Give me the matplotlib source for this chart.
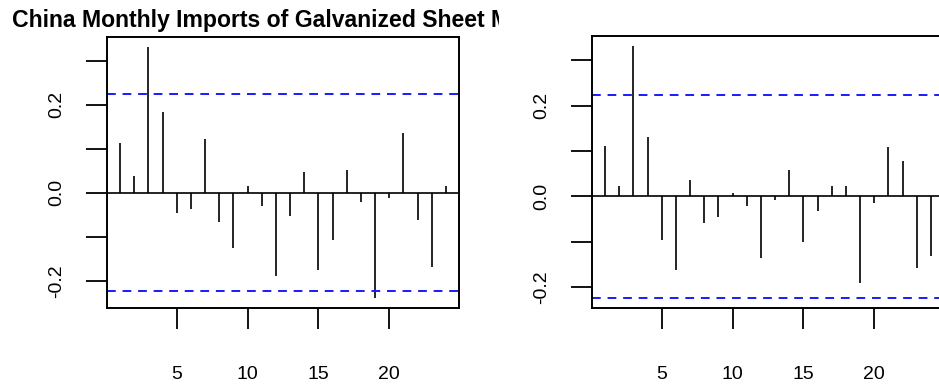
import numpy as np
import matplotlib.pyplot as plt
from matplotlib.transforms import Bbox

plt.rcParams['font.family'] = ['Liberation Sans', 'DejaVu Sans']

lags = np.arange(1, 25)

acf_vals = [0.112, 0.039, 0.331, 0.184, -0.047, -0.038, 0.122, -0.066,
            -0.126, 0.016, -0.030, -0.189, -0.053, 0.048, -0.175, -0.108,
            0.052, -0.021, -0.239, -0.011, 0.135, -0.063, -0.168, 0.016]

pacf_vals = [0.110, 0.024, 0.331, 0.131, -0.095, -0.162, 0.037, -0.059,
             -0.046, 0.007, -0.021, -0.136, -0.007, 0.059, -0.100, -0.033,
             0.024, 0.024, -0.190, -0.015, 0.109, 0.078, -0.158, -0.131]

n_obs = 77
clim = 1.96 / np.sqrt(n_obs)

title = "China Monthly Imports of Galvanized Sheet Metal"

W, H = 939, 387
fig = plt.figure(figsize=(W / 100, H / 100), dpi=100)


def px_axes(x0, y0, x1, y1):
    return fig.add_axes([x0 / W, 1 - y1 / H, (x1 - x0) / W, (y1 - y0) / H])


def corr_panel(ax, vals):
    vals = np.asarray(vals)
    ax.vlines(lags, 0, vals, color='black', lw=1.2)
    ax.axhline(0, color='black', lw=1.2)
    for c in (clim, -clim):
        ax.axhline(c, color='#1a1aff', lw=1.4, dashes=(4.5, 3.5))

    # 4% padding on both axes, as in base R graphics
    lo = min(vals.min(), -clim)
    hi = max(vals.max(), clim)
    pad = 0.04 * (hi - lo)
    ax.set_ylim(lo - pad, hi + pad)
    xpad = 0.04 * (lags[-1] - lags[0])
    ax.set_xlim(lags[0] - xpad, lags[-1] + xpad)

    ax.set_xticks([5, 10, 15, 20])
    yt = [-0.2, -0.1, 0.0, 0.1, 0.2, 0.3]
    ax.set_yticks(yt)
    ax.set_yticklabels(['-0.2', '', '0.0', '', '0.2', ''])
    ax.tick_params(axis='both', length=15, width=1.3, labelsize=14,
                   color='black')
    ax.tick_params(axis='x', pad=26.5)
    ax.tick_params(axis='y', pad=15)
    for lab in ax.get_yticklabels():
        lab.set_rotation(90)
        lab.set_va('center')
    for sp in ax.spines.values():
        sp.set_linewidth(1.4)


ax1 = px_axes(107, 37, 459, 308)
corr_panel(ax1, acf_vals)

ax2 = px_axes(592, 36, 944, 308)
corr_panel(ax2, pacf_vals)

t = fig.text(12 / W, 1 - 20 / H, title, fontsize=16.55, fontweight='bold',
             ha='left', va='center')
t.set_clip_box(Bbox.from_extents(0, 0, 499, H))
t.set_clip_on(True)

fig.savefig("out.png", dpi=100)
